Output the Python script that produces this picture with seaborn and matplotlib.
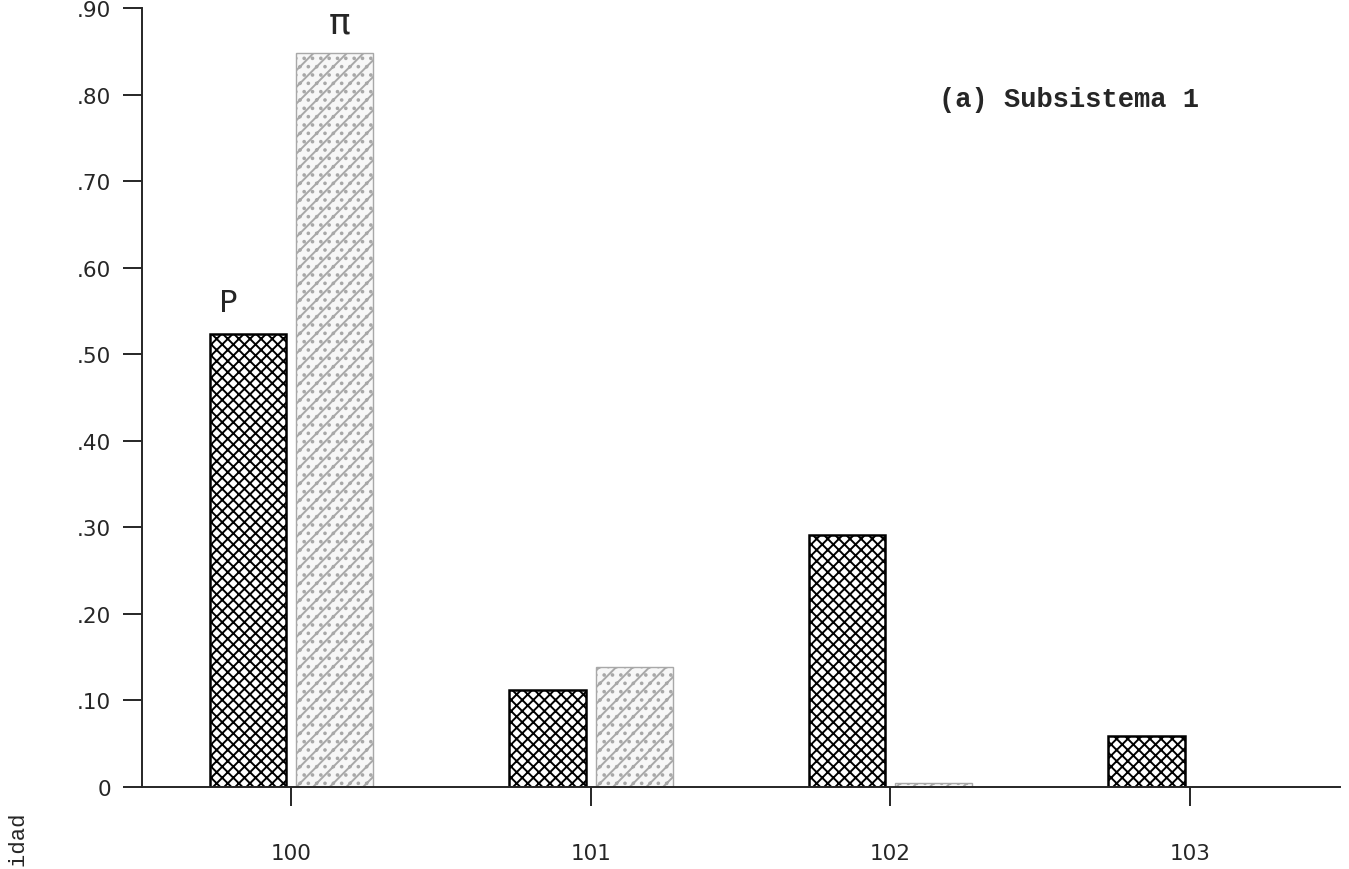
import numpy as np
import pandas as pd
import matplotlib
matplotlib.use("Agg")
import matplotlib.pyplot as plt
import seaborn as sns

categories = ["100", "101", "102", "103"]
p_values = [0.523, 0.112, 0.291, 0.059]
pi_values = [0.848, 0.139, 0.004, 0.0]
series_names = ["P", "π"]
ytick_values = [0, 0.1, 0.2, 0.3, 0.4, 0.5, 0.6, 0.7, 0.8, 0.9]
ytick_labels = ["0", ".10", ".20", ".30", ".40", ".50", ".60", ".70", ".80", ".90"]

df = pd.DataFrame({
    "estado": categories * 2,
    "valor": p_values + pi_values,
    "serie": [series_names[0]] * len(categories) + [series_names[1]] * len(categories),
})

sns.set_style("ticks")
plt.rcParams["font.family"] = ["DejaVu Sans"]
plt.rcParams["hatch.linewidth"] = 1.4

fig = plt.figure(figsize=(13.49, 8.70), dpi=100)
ax = fig.add_axes([0.105, 0.0943, 0.888, 0.8954])

sns.barplot(data=df, x="estado", y="valor", hue="serie", order=categories,
            hue_order=series_names, width=0.58, gap=0.117,
            palette=["white", "#f7f7f7"], legend=False, ax=ax, errorbar=None)

styles = [
    dict(hatch="xxx", edgecolor="black", lw=1.8),
    dict(hatch="//..", edgecolor="#a8a8a8", lw=1.0),
]
for cont, st in zip(ax.containers, styles):
    for bar in cont:
        bar.set_hatch(st["hatch"])
        bar.set_edgecolor(st["edgecolor"])
        bar.set_linewidth(st["lw"])

ax.set_xlim(-0.5, 3.5)
ax.set_ylim(0, 0.9)
ax.set_yticks(ytick_values)
ax.set_yticklabels(ytick_labels)
ax.set_xlabel("")
ax.set_ylabel("")
sns.despine(ax=ax, top=True, right=True)
ax.spines["left"].set_linewidth(1.4)
ax.spines["bottom"].set_linewidth(1.4)
ax.tick_params(axis="y", length=14, width=1.4, pad=8, labelsize=15.5, direction="out")
ax.tick_params(axis="x", length=14, width=1.4, pad=26, labelsize=15.5, direction="out")

# Series annotations above the first pair of bars
ax.text(-0.21, p_values[0] + 0.02, "P", fontsize=22, ha="center", va="bottom")
ax.text(0.16, pi_values[0] + 0.015, "π", fontsize=26, ha="center", va="bottom")

ax.text(0.666, 0.883, "(a) Subsistema 1", transform=ax.transAxes,
        fontsize=19.5, fontweight="bold", family="Liberation Mono",
        ha="left", va="center")

fig.text(0.013, 0.067, "Probabilidad", rotation=90, fontsize=16,
         family="Liberation Mono", ha="center", va="top")

fig.savefig("out.png", dpi=100)
